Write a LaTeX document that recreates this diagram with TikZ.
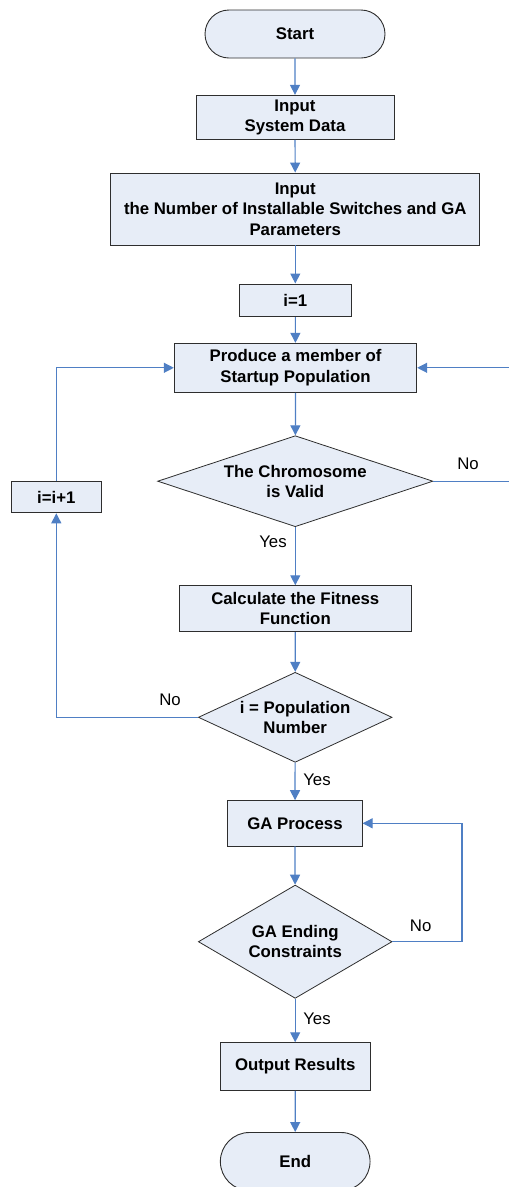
\documentclass[tikz,border=0pt]{standalone}
\usepackage{fontspec}
\setmainfont{Liberation Sans}
\usetikzlibrary{shapes.geometric,shapes.misc,arrows.meta}
\definecolor{boxfill}{HTML}{E7EDF7}
\definecolor{boxline}{HTML}{2E2E2E}
\definecolor{flow}{HTML}{4F7FC4}
\tikzset{
  proc/.style={draw=boxline, line width=0.9pt, fill=boxfill, rectangle, inner sep=0pt,
    align=center, font=\fontsize{16.8}{20.4}\selectfont\bfseries},
  term/.style={proc, rounded rectangle},
  decide/.style={proc, diamond, line width=0.8pt},
  flowline/.style={draw=flow, line width=1.2pt},
  flowarrow/.style={flowline, -{Triangle[width=10pt,length=10pt]}, color=flow},
  tag/.style={font=\fontsize{16.8}{20}\selectfont, inner sep=0pt}
}
\begin{document}
\begin{tikzpicture}[x=1pt,y=-1pt]
\useasboundingbox (0,0) rectangle (509,1187);

% main column of steps
\node[term, minimum width=180pt, minimum height=48pt] (start) at (295,34) {Start};
\node[proc, minimum width=198pt, minimum height=44pt] (sysdata) at (295,117.3) {Input\\System Data};
\node[proc, minimum width=369pt, minimum height=72pt] (params) at (295.3,209) {Input\\the Number of Installable Switches and GA\\Parameters};
\node[proc, minimum width=112.7pt, minimum height=32.7pt] (init) at (295.3,300.3) {i=1};
\node[proc, minimum width=242.4pt, minimum height=49pt] (produce) at (295.5,367.8) {Produce a member of\\Startup Population};
\node[decide, shape aspect=3.02, minimum width=275.3pt, minimum height=91pt] (valid) at (295.3,481.2) {The Chromosome\\is Valid};
\node[proc, minimum width=90pt, minimum height=31.7pt] (incr) at (56.3,497) {i=i+1};
\node[proc, minimum width=232pt, minimum height=46pt] (fitness) at (295.3,608.7) {Calculate the Fitness\\Function};
\node[decide, shape aspect=2.15, minimum width=193.7pt, minimum height=90pt] (popnum) at (295.2,717.3) {i = Population\\Number};
\node[proc, minimum width=134.3pt, minimum height=45.3pt] (ga) at (295,823.3) {GA Process};
\node[decide, shape aspect=1.71, minimum width=193.7pt, minimum height=113.3pt] (ending) at (295.2,941.7) {GA Ending\\Constraints};
\node[proc, minimum width=149.7pt, minimum height=47.6pt] (output) at (295.2,1066.5) {Output Results};
\node[term, minimum width=149.7pt, minimum height=58pt] (finish) at (295.2,1161.5) {End};

% turning points of the loops
\coordinate (rightloop) at (514,481.2);
\coordinate (leftloop) at (56.3,717.3);
\coordinate (galoop) at (462,941.7);

% straight flow
\draw[flowarrow] (start) -- (sysdata);
\draw[flowarrow] (sysdata) -- (params);
\draw[flowarrow] (params) -- (init);
\draw[flowarrow] (init) -- (produce);
\draw[flowarrow] (produce) -- (valid);
\draw[flowarrow] (valid) -- (fitness);
\draw[flowarrow] (fitness) -- (popnum);
\draw[flowarrow] (popnum) -- (ga);
\draw[flowarrow] (ga) -- (ending);
\draw[flowarrow] (ending) -- (output);
\draw[flowarrow] (output) -- (finish);

% loops
\draw[flowarrow] (valid.east) -- (rightloop) |- (produce.east);
\draw[flowarrow] (popnum.west) -- (leftloop) -- (incr.south);
\draw[flowarrow] (incr.north) |- (produce.west);
\draw[flowarrow] (ending.east) -- (galoop) |- (ga.east);

% branch labels
\node[tag] (vno) at (468,464) {No};
\node[tag] (vyes) at (273,541.7) {Yes};
\node[tag] (pno) at (170,700) {No};
\node[tag] (pyes) at (317,779.3) {Yes};
\node[tag] (eno) at (420.7,925.3) {No};
\node[tag] (eyes) at (317,1018.7) {Yes};
\end{tikzpicture}
\end{document}
